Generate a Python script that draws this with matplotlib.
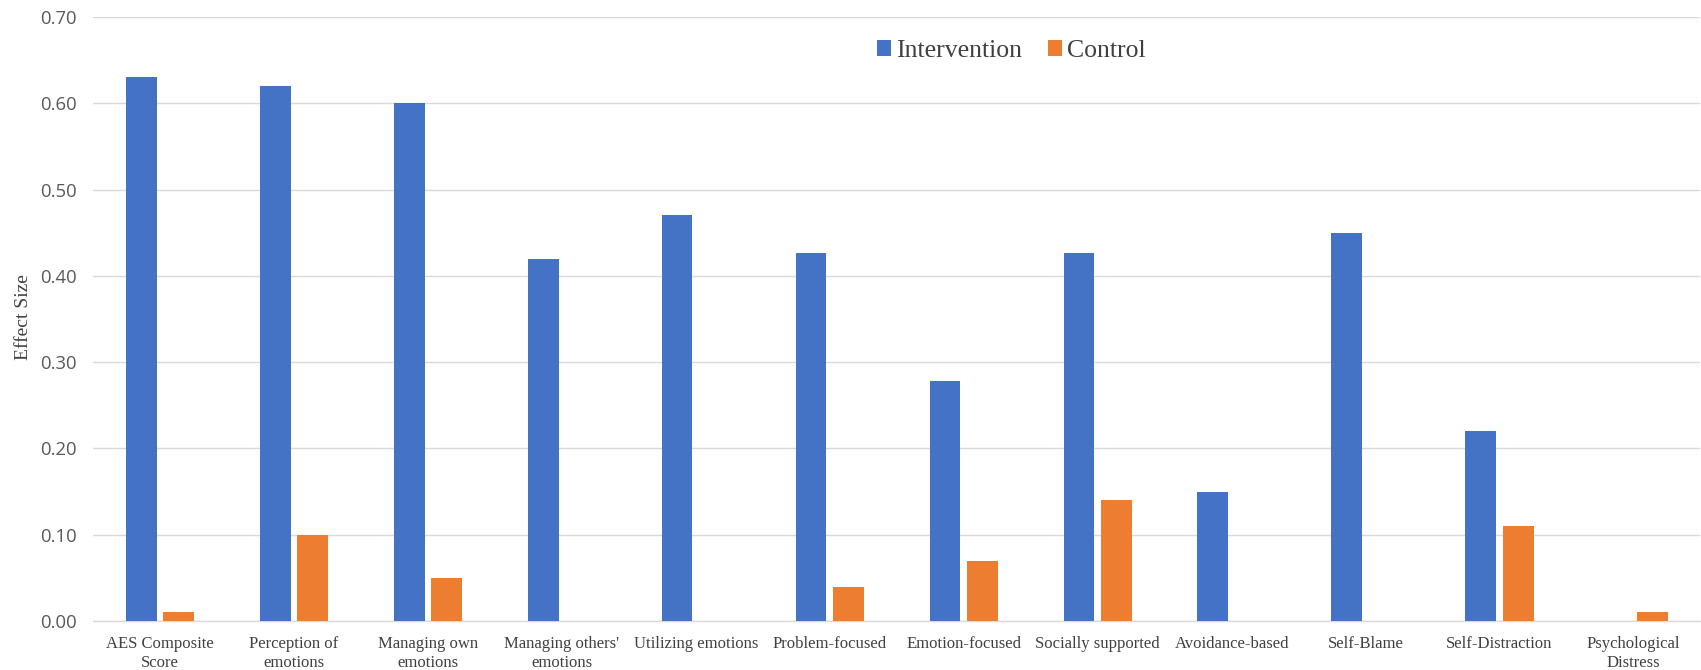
import matplotlib
matplotlib.use("Agg")
import matplotlib.pyplot as plt
import numpy as np
from matplotlib.patches import Patch

categories = [
    "AES Composite\nScore", "Perception of\nemotions", "Managing own\nemotions",
    "Managing others'\nemotions", "Utilizing emotions", "Problem-focused",
    "Emotion-focused", "Socially supported", "Avoidance-based", "Self-Blame",
    "Self-Distraction", "Psychological\nDistress",
]
intervention = [0.63, 0.62, 0.60, 0.42, 0.47, 0.426, 0.278, 0.426, 0.15, 0.45, 0.22, 0.0]
control = [0.01, 0.10, 0.05, 0.0, 0.0, 0.04, 0.07, 0.14, 0.0, 0.0, 0.11, 0.01]
yticks = [0.0, 0.1, 0.2, 0.3, 0.4, 0.5, 0.6, 0.7]

BLUE = "#4472C4"
ORANGE = "#ED7D31"
GRID = "#D9D9D9"
TICK = "#595959"

fig = plt.figure(figsize=(17.01, 6.70), dpi=100)
ax = fig.add_axes([0.0547, 0.0731, 0.945, 0.9015])

x = np.arange(len(categories))
w = 0.23
ax.bar(x - 0.14, intervention, width=w, color=BLUE, zorder=3)
ax.bar(x + 0.14, control, width=w, color=ORANGE, zorder=3)

ax.set_xlim(-0.5, len(categories) - 0.5)
ax.set_ylim(0, 0.70)
ax.set_yticks(yticks)
ax.set_yticklabels([f"{v:.2f}" for v in yticks], fontfamily="Open Sans",
                   fontsize=13.3, color=TICK)
ax.set_xticks(x)
ax.set_xticklabels(categories, fontfamily="Liberation Serif", fontsize=12,
                   color="#404040", linespacing=1.25)
ax.tick_params(axis="both", length=0)
ax.tick_params(axis="x", pad=11)
ax.tick_params(axis="y", pad=12)

ax.grid(axis="y", color=GRID, linewidth=1.0, zorder=0)
for s in ["top", "right", "left"]:
    ax.spines[s].set_visible(False)
ax.spines["bottom"].set_color(GRID)
ax.spines["bottom"].set_linewidth(1.0)

ax.set_ylabel("Effect Size", fontfamily="Liberation Serif", fontsize=14,
              color="#404040")
ax.yaxis.set_label_coords(-0.038, 0.503)

handles = [Patch(facecolor=BLUE, label="Intervention"),
           Patch(facecolor=ORANGE, label="Control")]
fig.legend(handles=handles, loc="center", bbox_to_anchor=(0.5945, 0.924), ncol=2,
           frameon=False, prop={"family": "Liberation Serif", "size": 18.5},
           handlelength=0.55, handleheight=0.55, handletextpad=0.2,
           columnspacing=1.0, labelcolor="#404040")

fig.savefig("out.png", dpi=100)
